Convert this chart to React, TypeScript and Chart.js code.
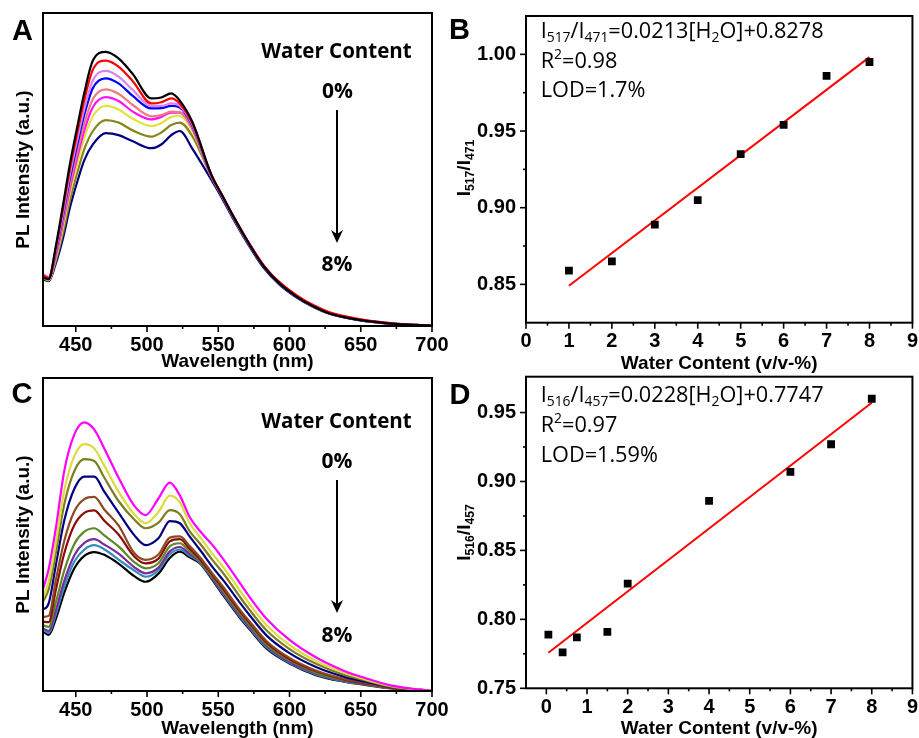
import React, { useEffect, useRef } from 'react';
import { Chart, registerables } from 'chart.js';
Chart.register(...registerables);

const FONT = "'Liberation Sans', Arial, sans-serif";
const FONT2 = "'Open Sans', sans-serif";

// ---------- Panel A data (wavelength nm vs PL intensity, a.u.) ----------
const A_NM = [427, 431, 436, 441, 446, 451, 456, 462, 471, 480, 490, 503, 510, 517, 523, 532, 545, 553, 560, 570, 582, 593, 605, 617, 628, 640, 652, 664, 676, 700];
const A_BLACK = [15.5, 15, 25.5, 38.5, 52, 63.5, 74.5, 84.8, 87.6, 85.5, 80.5, 72.7, 73, 74.3, 72, 65, 48.5, 41.5, 35.5, 27.5, 19, 13.6, 9.4, 6.2, 4.0, 2.7, 1.7, 1.1, 0.6, 0.15];
const A_RED = [16.2, 15.4, 24.9, 37.4, 50.5, 61.6, 72.2, 81.9, 84.8, 82.9, 78.2, 71.1, 71.5, 72.7, 71, 64.6, 48.4, 41.5, 35.6, 27.7, 19.3, 14, 9.8, 6.6, 4.4, 3.0, 1.95, 1.25, 0.7, 0.15];
const A_VIOLET = [16.5, 15.6, 24.2, 36, 48.7, 59.4, 69.4, 78.5, 81.5, 79.7, 75.4, 70.3, 70.3, 71.1, 70.3, 64.2, 48.3, 41.5, 35.5, 27.6, 19.2, 13.8, 9.6, 6.4, 4.2, 2.85, 1.8, 1.15, 0.65, 0.15];
const A_BLUE = [16.2, 15.3, 23.7, 35.1, 47.4, 57.8, 67.5, 76, 79.1, 77.5, 73.5, 69.5, 69.6, 70.3, 69.8, 63.8, 48.2, 41.4, 35.4, 27.5, 19, 13.6, 9.4, 6.2, 4.0, 2.7, 1.7, 1.1, 0.6, 0.15];
const A_SALMON = [16, 15.1, 23, 33.7, 45.6, 55.5, 64.6, 72.5, 75.6, 74.2, 70.6, 67, 67.4, 68.5, 68.3, 63.2, 48.1, 41.4, 35.5, 27.6, 19.2, 13.8, 9.7, 6.5, 4.3, 2.9, 1.85, 1.2, 0.65, 0.15];
const A_MAGENTA = [15.8, 15, 22.4, 32.7, 44.2, 53.8, 62.5, 69.9, 73.1, 71.9, 68.5, 66, 66.8, 68.2, 68.2, 62.9, 48, 41.3, 35.4, 27.5, 19.1, 13.7, 9.5, 6.3, 4.1, 2.75, 1.75, 1.1, 0.6, 0.15];
const A_YELLOW = [15.6, 14.8, 21.8, 31.5, 42.7, 51.9, 60.2, 67, 70.3, 69.2, 66.2, 63.9, 64.8, 66.8, 67.1, 62.2, 48, 41.3, 35.3, 27.4, 19, 13.6, 9.4, 6.2, 4.0, 2.7, 1.7, 1.1, 0.6, 0.15];
const A_OLIVE = [15.2, 14.5, 20.9, 29.7, 40.3, 48.8, 56.5, 62.3, 65.8, 65, 62.5, 60.5, 61.8, 64.2, 65, 60.5, 47.8, 41.1, 35.1, 27.2, 18.9, 13.5, 9.3, 6.1, 3.95, 2.65, 1.65, 1.05, 0.55, 0.15];
const A_NAVY = [15, 14.3, 20, 28, 38, 46, 53, 58, 61.6, 61, 59, 56.8, 58, 61, 62.3, 56.5, 46.8, 40.5, 34.6, 26.8, 18.5, 13.2, 9.1, 6.0, 3.9, 2.6, 1.6, 1.0, 0.55, 0.15];
const A_SERIES = [A_BLACK, A_RED, A_VIOLET, A_BLUE, A_SALMON, A_MAGENTA, A_YELLOW, A_OLIVE, A_NAVY];
const A_COLORS = ['#000000', '#ff0000', '#dc82ee', '#0000ff', '#f07a7a', '#ff10ff', '#e2e23c', '#85851a', '#000080'];

// ---------- Panel C data ----------
const C_NM = [427, 431, 436, 442, 449, 456, 463, 470, 480, 491, 499, 508, 516, 523, 530, 537, 546, 554, 565, 572, 584, 600, 619, 638, 654, 670, 685, 700];
const C_MAGENTA = [32.5, 39, 52, 70.5, 82, 85.8, 83.5, 77.5, 68.2, 59.2, 56.2, 61.5, 66.6, 62.5, 55.5, 51.2, 46.6, 41.8, 34.6, 30, 23, 16.3, 10.6, 6.5, 4.0, 1.9, 0.8, 0.1];
const C_YELLOW = [30, 35, 47.3, 64.2, 75.1, 78.9, 77.5, 72, 63.7, 56.5, 53.6, 57.2, 62.4, 60.3, 53.5, 49.3, 43.8, 39.3, 32.2, 27.8, 21, 14.7, 9.5, 5.9, 3.6, 1.7, 0.7, 0.1];
const C_OLIVE = [28.5, 32.5, 44.1, 59.8, 70.3, 74.1, 73.5, 68.2, 60.7, 54.8, 52, 53.8, 57.8, 56.5, 51, 47.2, 41.8, 37.3, 30.2, 25.9, 19.3, 13.4, 8.6, 5.2, 3.3, 1.5, 0.65, 0.1];
const C_NAVY = [26, 28, 40.2, 54.6, 64.6, 68.5, 68.5, 63.7, 57, 49.8, 46.6, 48.8, 54.3, 53.6, 49.3, 45.2, 39.6, 35.1, 28.3, 24.2, 17.7, 12.1, 7.6, 4.6, 2.9, 1.4, 0.6, 0.1];
const C_BROWN = [23.7, 24, 35.4, 48.1, 57.4, 61.3, 62, 58, 52.9, 44.1, 41.9, 43.6, 49, 49.4, 46.3, 42.8, 37.5, 32.9, 26.1, 22.2, 15.9, 10.6, 6.5, 3.9, 2.5, 1.2, 0.5, 0.1];
const C_DARKRED = [22.1, 22, 32.3, 44.1, 53, 56.9, 57.7, 54.4, 50, 43, 40.8, 42.3, 47.8, 48.5, 45.4, 42.2, 37, 32.3, 25.6, 21.7, 15.4, 10.2, 6.2, 3.7, 2.3, 1.1, 0.45, 0.1];
const C_GREEN = [21, 20.5, 28.3, 38.6, 47, 50.9, 52, 49.7, 46.2, 41.2, 39.2, 40.8, 46.2, 47.2, 44.5, 41.6, 36.5, 31.6, 24.9, 21.1, 14.8, 9.8, 5.8, 3.5, 2.2, 1.05, 0.42, 0.1];
const C_PURPLE = [20, 19.2, 25.8, 35.3, 43.4, 47.3, 48.5, 46.8, 43.9, 39.6, 37.6, 39.4, 44.6, 46, 43.7, 41.4, 36, 31, 24.3, 20.5, 14.3, 9.3, 5.5, 3.3, 2.1, 1, 0.4, 0.1];
const C_STEEL = [19.5, 18.6, 24.5, 33.5, 41.4, 45.2, 46.6, 45.3, 42, 38.5, 36.5, 38.6, 43.7, 45.2, 43.2, 41.1, 35.8, 30.6, 23.9, 20.1, 13.9, 9.0, 5.2, 3.1, 2, 0.95, 0.38, 0.1];
const C_BLACK = [19, 17.9, 23, 31.5, 39.2, 43.2, 44.4, 43.5, 40.7, 36.7, 34.9, 37.5, 42.5, 44.5, 42.7, 40.8, 35.4, 30.2, 23.5, 19.7, 13.5, 8.8, 5.0, 3, 1.9, 0.9, 0.35, 0.1];
const C_SERIES = [C_MAGENTA, C_YELLOW, C_OLIVE, C_NAVY, C_BROWN, C_DARKRED, C_GREEN, C_PURPLE, C_STEEL, C_BLACK];
const C_COLORS = ['#ff00ff', '#dcdc40', '#7d7d22', '#000080', '#8b4a22', '#8b0a0a', '#5b8a24', '#7a2a9a', '#2f8cc4', '#000000'];

const NM_TICKS = [450, 500, 550, 600, 650, 700];
const NM_MINOR = [475, 525, 575, 625, 675];

// ---------- Panel B data ----------
const B_X = [1, 2, 3, 4, 5, 6, 7, 8];
const B_Y = [0.859, 0.865, 0.889, 0.905, 0.935, 0.954, 0.986, 0.995];
const B_FIT_X = [1, 8];
const B_FIT_Y = [0.8491, 0.9982];
const B_YTICKS = [0.85, 0.9, 0.95, 1.0];
const B_YMINOR = [0.875, 0.925, 0.975];

// ---------- Panel D data ----------
const D_X = [0.05, 0.4, 0.75, 1.5, 2, 4, 6, 7, 8];
const D_Y = [0.789, 0.776, 0.787, 0.791, 0.826, 0.886, 0.907, 0.927, 0.960];
const D_FIT_X = [0.05, 8];
const D_FIT_Y = [0.7758, 0.9571];
const D_YTICKS = [0.75, 0.8, 0.85, 0.9, 0.95];
const D_YMINOR = [0.775, 0.825, 0.875, 0.925];

const WC_TICKS = [0, 1, 2, 3, 4, 5, 6, 7, 8, 9];
const WC_MINOR = [0.5, 1.5, 2.5, 3.5, 4.5, 5.5, 6.5, 7.5, 8.5];

type Part = { t: string; s?: 'sub' | 'sup' };
type TextItem = { parts: Part[]; x: number; y: number; size: number; bold?: boolean; family?: string; align?: 'left' | 'center'; rotate?: boolean };
type Deco = { xMajor: number[]; xMinor: number[]; yMajor: number[]; yMinor: number[]; texts: TextItem[]; arrow?: { x: number; y1: number; y2: number } };

function drawRich(ctx: CanvasRenderingContext2D, it: TextItem) {
  const fam = it.family || FONT2;
  const w = it.bold ? 'bold ' : '';
  const fontFor = (p: Part) => `${w}${p.s ? it.size * 0.64 : it.size}px ${fam}`;
  let total = 0;
  for (const p of it.parts) { ctx.font = fontFor(p); total += ctx.measureText(p.t).width; }
  ctx.save();
  ctx.translate(it.x, it.y);
  if (it.rotate) ctx.rotate(-Math.PI / 2);
  let x = it.align === 'center' ? -total / 2 : 0;
  ctx.textBaseline = 'middle';
  ctx.textAlign = 'left';
  ctx.fillStyle = '#000';
  for (const p of it.parts) {
    ctx.font = fontFor(p);
    const dy = p.s === 'sub' ? it.size * 0.3 : p.s === 'sup' ? -it.size * 0.3 : 0;
    ctx.fillText(p.t, x, dy);
    x += ctx.measureText(p.t).width;
  }
  ctx.restore();
}

function makeDeco(d: Deco) {
  return {
    id: 'deco',
    afterDraw(chart: any) {
      const { ctx, chartArea: a, scales } = chart;
      ctx.save();
      ctx.strokeStyle = '#000';
      ctx.lineWidth = 2;
      ctx.strokeRect(a.left, a.top, a.right - a.left, a.bottom - a.top);
      ctx.lineWidth = 1.6;
      const xs = scales.x, ys = scales.y;
      const tx = (v: number, len: number) => {
        const p = xs.getPixelForValue(v);
        ctx.beginPath(); ctx.moveTo(p, a.bottom); ctx.lineTo(p, a.bottom + len); ctx.stroke();
      };
      const ty = (v: number, len: number) => {
        const p = ys.getPixelForValue(v);
        ctx.beginPath(); ctx.moveTo(a.left, p); ctx.lineTo(a.left - len, p); ctx.stroke();
      };
      d.xMajor.forEach(v => tx(v, 6));
      d.xMinor.forEach(v => tx(v, 3));
      d.yMajor.forEach(v => ty(v, 6));
      d.yMinor.forEach(v => ty(v, 3));
      if (d.arrow) {
        const { x, y1, y2 } = d.arrow;
        ctx.lineWidth = 2;
        ctx.beginPath(); ctx.moveTo(x, y1); ctx.lineTo(x, y2 - 6); ctx.stroke();
        ctx.fillStyle = '#000';
        ctx.beginPath();
        ctx.moveTo(x, y2); ctx.lineTo(x - 6, y2 - 13); ctx.lineTo(x, y2 - 9); ctx.lineTo(x + 6, y2 - 13);
        ctx.closePath(); ctx.fill();
      }
      d.texts.forEach(t => drawRich(ctx, t));
      ctx.restore();
    },
  };
}

const tickFont = { family: FONT, size: 20, weight: 'bold' as const };
const titleFont = { family: FONT, size: 19, weight: 'bold' as const };

function spectraConfig(xs: number[], series: number[][], colors: string[], deco: Deco, xH: number, top: number, titlePadB: number) {
  return {
    type: 'line',
    data: {
      datasets: series.map((ys, i) => ({
        data: xs.map((x, j) => ({ x, y: ys[j] })),
        borderColor: colors[i],
        borderWidth: 2.2,
        pointRadius: 0,
        cubicInterpolationMode: 'monotone',
        fill: false,
      })),
    },
    options: {
      responsive: false,
      animation: false,
      devicePixelRatio: 1,
      layout: { padding: { left: 0, top, right: 23, bottom: 0 } },
      plugins: { legend: { display: false }, tooltip: { enabled: false } },
      scales: {
        x: {
          type: 'linear', min: 427, max: 700,
          afterBuildTicks: (s: any) => { s.ticks = NM_TICKS.map(v => ({ value: v })); },
          afterFit: (s: any) => { s.height = xH; },
          grid: { display: false, drawTicks: true, tickLength: 6 },
          border: { display: false },
          ticks: { font: tickFont, color: '#000', padding: 1, maxRotation: 0 },
          title: { display: true, text: 'Wavelength (nm)', font: titleFont, color: '#000', padding: { top: 0, bottom: titlePadB } },
        },
        y: {
          type: 'linear', min: 0, max: 100,
          afterFit: (s: any) => { s.width = 43; },
          grid: { display: false },
          border: { display: false },
          ticks: { display: false },
          title: { display: true, text: 'PL Intensity (a.u.)', font: titleFont, color: '#000', padding: { top: 12.6, bottom: 0 } },
        },
      },
    },
    plugins: [makeDeco(deco)],
  };
}

function ratioConfig(px: number[], py: number[], fx: number[], fy: number[], xmin: number, ymin: number, ymax: number, yTicks: number[], deco: Deco, xH: number, top: number, titlePadB: number) {
  return {
    type: 'scatter',
    data: {
      datasets: [
        {
          data: px.map((x, i) => ({ x, y: py[i] })),
          pointStyle: 'rect',
          pointRadius: 5.5,
          backgroundColor: '#000',
          borderColor: '#000',
          borderWidth: 0,
          order: 0,
        },
        {
          data: fx.map((x, i) => ({ x, y: fy[i] })),
          showLine: true,
          borderColor: '#ff0000',
          borderWidth: 2,
          pointRadius: 0,
          order: 1,
        },
      ],
    },
    options: {
      responsive: false,
      animation: false,
      devicePixelRatio: 1,
      layout: { padding: { left: 0, top, right: 6.3, bottom: 0 } },
      plugins: { legend: { display: false }, tooltip: { enabled: false } },
      scales: {
        x: {
          type: 'linear', min: xmin, max: 9,
          afterBuildTicks: (s: any) => { s.ticks = WC_TICKS.map(v => ({ value: v })); },
          afterFit: (s: any) => { s.height = xH; },
          grid: { display: false, drawTicks: true, tickLength: 6 },
          border: { display: false },
          ticks: { font: tickFont, color: '#000', padding: 1, maxRotation: 0 },
          title: { display: true, text: 'Water Content (v/v-%)', font: titleFont, color: '#000', padding: { top: 0, bottom: titlePadB } },
        },
        y: {
          type: 'linear', min: ymin, max: ymax,
          afterBuildTicks: (s: any) => { s.ticks = yTicks.map(v => ({ value: v })); },
          afterFit: (s: any) => { s.width = 76; },
          grid: { display: false, drawTicks: true, tickLength: 6 },
          border: { display: false },
          ticks: { font: tickFont, color: '#000', padding: 4, callback: (v: any) => Number(v).toFixed(2) },
        },
      },
    },
    plugins: [makeDeco(deco)],
  };
}

const decoA: Deco = {
  xMajor: NM_TICKS, xMinor: NM_MINOR, yMajor: [], yMinor: [],
  texts: [
    { parts: [{ t: 'A' }], x: 22.5, y: 32, size: 29, bold: true, family: FONT, align: 'center' },
    { parts: [{ t: 'Water Content' }], x: 336.5, y: 52, size: 20.5, bold: true, align: 'center' },
    { parts: [{ t: '0%' }], x: 337.5, y: 92, size: 21, bold: true, align: 'center' },
    { parts: [{ t: '8%' }], x: 337, y: 265, size: 21, bold: true, align: 'center' },
  ],
  arrow: { x: 337, y1: 110, y2: 243 },
};

const decoC: Deco = {
  xMajor: NM_TICKS, xMinor: NM_MINOR, yMajor: [], yMinor: [],
  texts: [
    { parts: [{ t: 'C' }], x: 22, y: 35, size: 29, bold: true, family: FONT, align: 'center' },
    { parts: [{ t: 'Water Content' }], x: 336.5, y: 61.7, size: 20.5, bold: true, align: 'center' },
    { parts: [{ t: '0%' }], x: 337, y: 101.7, size: 21, bold: true, align: 'center' },
    { parts: [{ t: '8%' }], x: 337, y: 276, size: 21, bold: true, align: 'center' },
  ],
  arrow: { x: 337, y1: 120, y2: 253 },
};

const decoB: Deco = {
  xMajor: WC_TICKS, xMinor: WC_MINOR, yMajor: B_YTICKS, yMinor: B_YMINOR,
  texts: [
    { parts: [{ t: 'B' }], x: 9.5, y: 31, size: 29, bold: true, family: FONT, align: 'center' },
    { parts: [{ t: 'I' }, { t: '517', s: 'sub' }, { t: '/I' }, { t: '471', s: 'sub' }, { t: '=0.0213[H' }, { t: '2', s: 'sub' }, { t: 'O]+0.8278' }], x: 90.7, y: 32, size: 21.7 },
    { parts: [{ t: 'R' }, { t: '2', s: 'sup' }, { t: '=0.98' }], x: 90.7, y: 61.7, size: 21.7 },
    { parts: [{ t: 'LOD=1.7%' }], x: 90.7, y: 90.7, size: 21.7 },
    { parts: [{ t: 'I' }, { t: '517', s: 'sub' }, { t: '/I' }, { t: '471', s: 'sub' }], x: 15, y: 168, size: 19, bold: true, family: FONT, align: 'center', rotate: true },
  ],
};

const decoD: Deco = {
  xMajor: WC_TICKS, xMinor: WC_MINOR, yMajor: D_YTICKS, yMinor: D_YMINOR,
  texts: [
    { parts: [{ t: 'D' }], x: 10, y: 36, size: 29, bold: true, family: FONT, align: 'center' },
    { parts: [{ t: 'I' }, { t: '516', s: 'sub' }, { t: '/I' }, { t: '457', s: 'sub' }, { t: '=0.0228[H' }, { t: '2', s: 'sub' }, { t: 'O]+0.7747' }], x: 90.7, y: 35.7, size: 21.7 },
    { parts: [{ t: 'R' }, { t: '2', s: 'sup' }, { t: '=0.97' }], x: 90.7, y: 65.7, size: 21.7 },
    { parts: [{ t: 'LOD=1.59%' }], x: 90.7, y: 95.7, size: 21.7 },
    { parts: [{ t: 'I' }, { t: '516', s: 'sub' }, { t: '/I' }, { t: '457', s: 'sub' }], x: 15, y: 172.5, size: 19, bold: true, family: FONT, align: 'center', rotate: true },
  ],
};

function Panel({ left, top, width, height, make }: { left: number; top: number; width: number; height: number; make: () => any }) {
  const ref = useRef<HTMLCanvasElement | null>(null);
  useEffect(() => {
    if (!ref.current) return;
    const chart = new Chart(ref.current, make());
    return () => chart.destroy();
  }, []);
  return <canvas ref={ref} width={width} height={height} style={{ position: 'absolute', left, top, width, height }} />;
}

export default function App() {
  return (
    <div style={{ position: 'fixed', left: 0, top: 0, width: 919, height: 738, overflow: 'hidden', background: '#fff' }}>
      <Panel left={0} top={0} width={455} height={375} make={() => spectraConfig(A_NM, A_SERIES, A_COLORS, decoA, 49, 13, 1.6)} />
      <Panel left={450} top={0} width={469} height={375} make={() => ratioConfig(B_X, B_Y, B_FIT_X, B_FIT_Y, 0, 0.825, 1.025, B_YTICKS, decoB, 52.3, 13.3, 0)} />
      <Panel left={0} top={360} width={455} height={382} make={() => spectraConfig(C_NM, C_SERIES, C_COLORS, decoC, 51, 18, 1.6)} />
      <Panel left={450} top={360} width={469} height={382} make={() => ratioConfig(D_X, D_Y, D_FIT_X, D_FIT_Y, -0.5, 0.75, 0.976, D_YTICKS, decoD, 53.7, 16.7, 1.6)} />
    </div>
  );
}
